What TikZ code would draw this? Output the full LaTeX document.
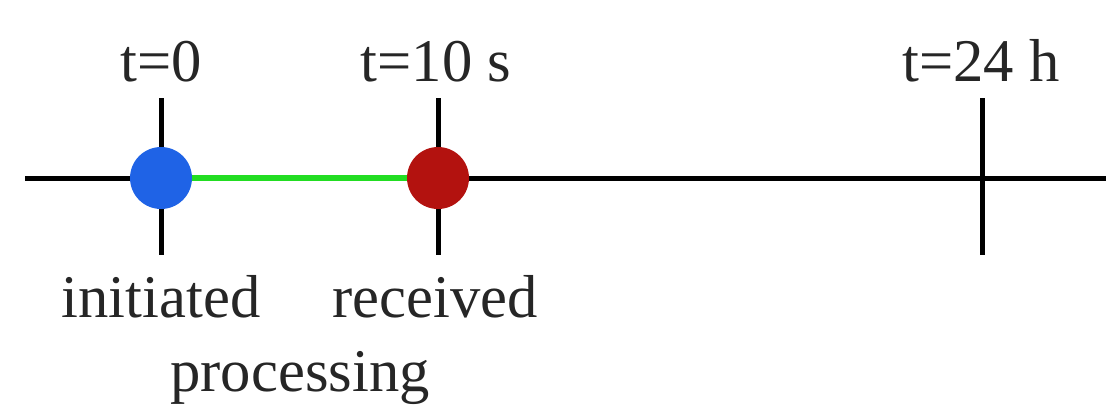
\documentclass[tikz,border=0pt]{standalone}
\usepackage{fontspec}
\setmainfont{Liberation Serif}
\usetikzlibrary{positioning}
\definecolor{startblue}{HTML}{1F63E6}
\definecolor{endred}{HTML}{B3120F}
\definecolor{spangreen}{HTML}{22DD22}
\begin{document}
\begin{tikzpicture}[
  x=0.02cm, y=-0.02cm,
  font=\fontsize{34.5}{40}\selectfont,
  axis/.style={line width=0.1cm, draw=black},
  tickline/.style={line width=0.1cm, draw=black},
  span/.style={line width=0.11cm, draw=spangreen},
  dot/.style={circle, minimum size=1.24cm, inner sep=0pt, draw=none},
  lbl/.style={anchor=base, inner sep=0pt, text=black!85},
]
\useasboundingbox (0,0) rectangle (1106,407);
% time axis
\coordinate (west) at (25,178);
\coordinate (east) at (1106,178);
\draw[axis] (west) -- (east);
% ticks
\coordinate (tatop) at (161,98);
\coordinate (tabot) at (161,255);
\coordinate (tbtop) at (438,98);
\coordinate (tbbot) at (438,255);
\coordinate (tctop) at (982,98);
\coordinate (tcbot) at (982,255);
\draw[tickline] (tatop) -- (tabot);
\draw[tickline] (tbtop) -- (tbbot);
\draw[tickline] (tctop) -- (tcbot);
% events
\node[dot, fill=startblue] (init) at (161,178) {};
\node[dot, fill=endred] (recv) at (438,178) {};
\draw[span] (init) -- (recv);
% labels
\node[lbl] (ta) at (161,81) {t=0};
\node[lbl] (tb) at (436,81) {t=10 s};
\node[lbl] (tc) at (981,81) {t=24 h};
\node[lbl] (initlbl) at (161,317) {initiated};
\node[lbl] (recvlbl) at (435,317) {received};
\node[lbl] (proclbl) at (300,391) {processing};
\end{tikzpicture}
\end{document}
